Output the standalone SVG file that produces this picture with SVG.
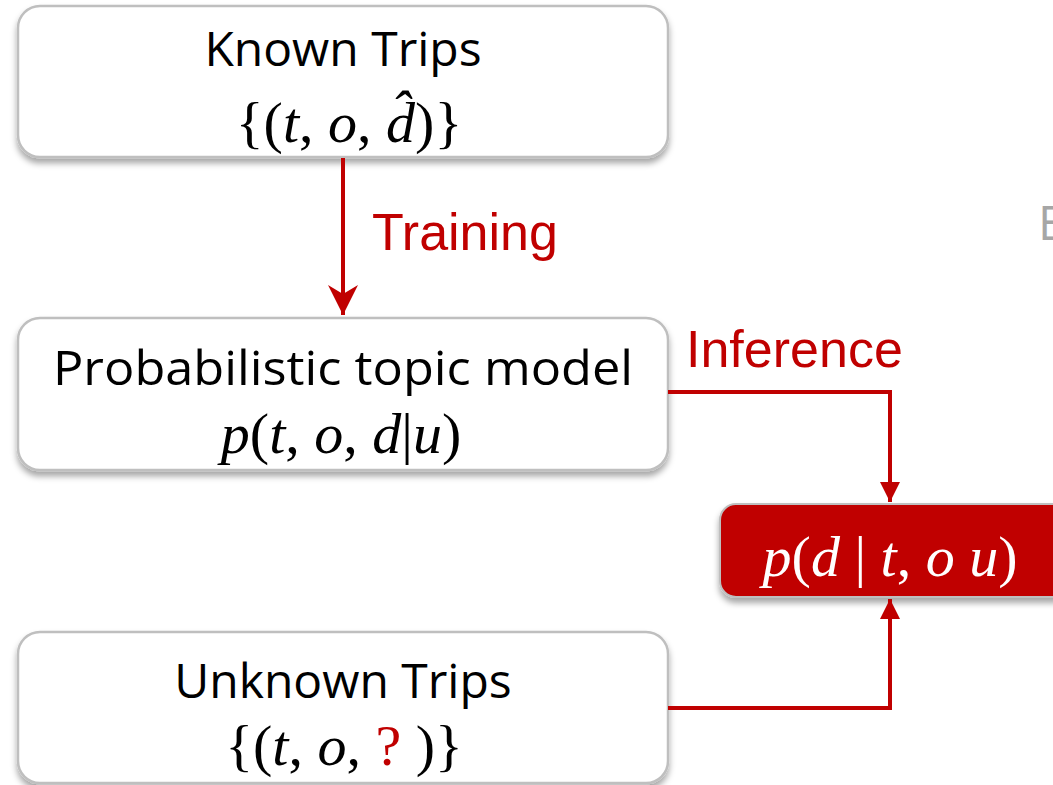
<svg xmlns="http://www.w3.org/2000/svg" width="1053" height="785" viewBox="0 0 1053 785">
<defs>
<filter id="sh" x="-10%" y="-20%" width="120%" height="150%">
<feDropShadow dx="0" dy="5" stdDeviation="3" flood-color="#000" flood-opacity="0.35"/>
</filter>
<marker id="ah" viewBox="0 0 10 10" refX="10" refY="5" markerWidth="5" markerHeight="5" markerUnits="strokeWidth" orient="auto">
<path d="M0,0 L10,5 L0,10 Z" fill="#C00000"/>
</marker>
<marker id="ab" viewBox="0 0 10 10" refX="10" refY="5" markerWidth="7.5" markerHeight="7.5" markerUnits="strokeWidth" orient="auto">
<path d="M0,0 L10,5 L0,10 L3,5 Z" fill="#C00000"/>
</marker>
</defs>
<style>
.box{fill:#fff;stroke:#BFBFBF;stroke-width:2.5}
.lbl{font-family:"Open Sans","Noto Sans",sans-serif;font-size:48px;fill:#000;text-anchor:middle}
.math{font-family:"Liberation Serif","DejaVu Serif",serif;font-size:58px;fill:#000;text-anchor:middle}
.it{font-style:italic}
.red{font-family:"Liberation Sans",Arial,sans-serif;font-size:52px;fill:#C00000}
.conn{fill:none;stroke:#C00000;stroke-width:4}
</style>
<text x="1038" y="240" font-family="Open Sans, sans-serif" font-size="48" fill="#A6A6A6">E</text>
<g id="known">
<rect class="box" x="18" y="6" width="650" height="151" rx="22" filter="url(#sh)"/>
<text class="lbl" x="343" y="66">Known Trips</text>
<text class="math" x="349" y="142">{(<tspan class="it">t</tspan>, <tspan class="it">o</tspan>, <tspan class="it">d̂</tspan>)}</text>
</g>
<g id="model">
<rect class="box" x="18" y="318" width="650" height="152" rx="22" filter="url(#sh)"/>
<text class="lbl" x="343" y="385" textLength="580" lengthAdjust="spacingAndGlyphs">Probabilistic topic model</text>
<text class="math" x="341" y="453"><tspan class="it">p</tspan>(<tspan class="it">t</tspan>, <tspan class="it">o</tspan>, <tspan class="it">d</tspan>|<tspan class="it">u</tspan>)</text>
</g>
<g id="unknown">
<rect class="box" x="18" y="632" width="650" height="151" rx="22" filter="url(#sh)"/>
<text class="lbl" x="343" y="698">Unknown Trips</text>
<text class="math" x="344" y="765">{(<tspan class="it">t</tspan>, <tspan class="it">o</tspan>, <tspan fill="#C00000">?</tspan> )}</text>
</g>
<g id="result">
<rect x="720" y="504" width="350" height="93" rx="16" fill="#C00000" stroke="#BFBFBF" stroke-width="2" filter="url(#sh)"/>
<text class="math" x="890" y="576" style="fill:#fff"><tspan class="it">p</tspan>(<tspan class="it">d</tspan> | <tspan class="it">t</tspan>, <tspan class="it">o</tspan> <tspan class="it">u</tspan>)</text>
</g>
<g id="connectors">
<line class="conn" x1="343" y1="158" x2="343" y2="315" marker-end="url(#ab)"/>
<text class="red" x="372" y="250">Training</text>
<polyline class="conn" points="668,392 890,392 890,502" marker-end="url(#ah)"/>
<text class="red" x="686" y="367">Inference</text>
<polyline class="conn" points="668,708 890,708 890,599" marker-end="url(#ah)"/>
</g>
</svg>
